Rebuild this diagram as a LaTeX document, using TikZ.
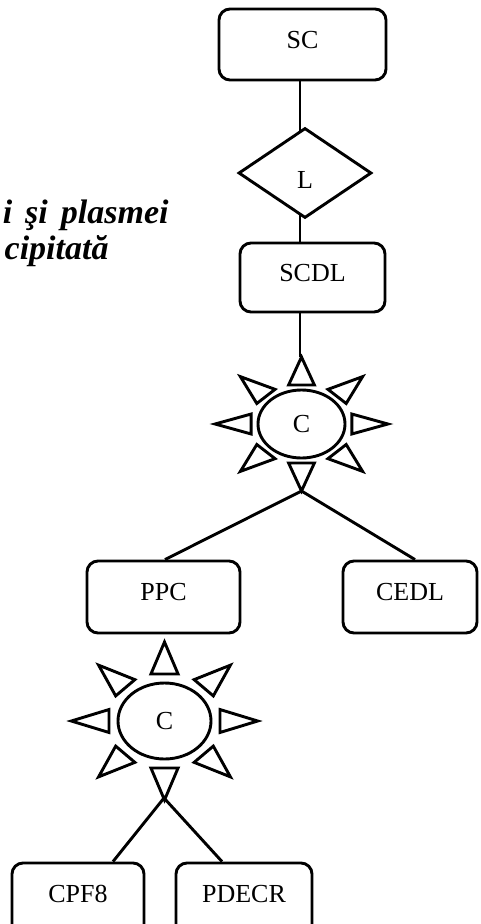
\documentclass[tikz,border=0pt]{standalone}
\usepackage{fontspec}
\setmainfont{Liberation Serif}
\usetikzlibrary{shapes.geometric}

% rays of a "sun" around an ellipse: #1 centre, #2 base radius,
% #3 tip radius, #4 half width of a ray, #5 horizontal stretch
\newcommand{\sunrays}[5]{%
  \begin{scope}[shift={#1}, xscale=#5]
    \foreach \ang in {0,45,...,315}{
      \draw[rotate=\ang, line join=miter] (#2,-#4) -- (#2,#4) -- (#3,0) -- cycle;
    }
  \end{scope}}

\begin{document}
\begin{tikzpicture}[x=1pt, y=-1pt, line width=2.9pt,
  lbl/.style={font=\fontsize{26}{30}\selectfont},
  box/.style={lbl, draw, rounded corners=11pt, minimum width=#1,
    minimum height=72pt, inner sep=0pt, text depth=10pt},
  core/.style={lbl, draw, ellipse, inner sep=0pt},
  caption/.style={font=\fontsize{34}{38}\selectfont\bfseries\itshape,
    inner sep=0pt}]

\useasboundingbox (0,0) rectangle (480,924);

% partial heading on the left
\node[caption, anchor=base east] (head1) at (170,223)
  {i\hspace{13pt}şi\hspace{13pt}plasmei};
\node[caption, anchor=base east] (head2) at (110,259) {cipitată};

\coordinate (spine) at (300,0);

% upper chain
\node[box=167pt, minimum height=71pt] (SC) at (302.5,44.5) {SC};
\node[lbl, draw, diamond, minimum width=133pt, minimum height=90pt,
  inner sep=0pt, text height=31pt] (L) at (305,173) {L};
\node[box=145pt, minimum height=69pt] (SCDL) at (312.5,277.5) {SCDL};

% first centrifugation
\node[core, minimum width=87pt, minimum height=68pt] (C1) at (301.5,424) {C};
\sunrays{(301.5,424)}{39}{67}{10}{1.29}
\coordinate (C1top) at (301.5,357);
\coordinate (C1tip) at (301.5,491);

% middle level
\node[box=153pt] (PPC) at (163.5,597) {PPC};
\node[box=134pt] (CEDL) at (410,597) {CEDL};

% second centrifugation
\node[core, minimum width=93pt, minimum height=76pt] (C2) at (164.5,721) {C};
\sunrays{(164.5,721)}{47}{79}{11.5}{1.18}
\coordinate (C2tip) at (164,798);

% bottom level
\node[box=132pt] (CPF8) at (78,899) {CPF8};
\node[box=136pt] (PDECR) at (244,899) {PDECR};

% connectors
\draw (SC.south -| spine) -- ([yshift=-4pt]spine |- L.north);
\draw ([yshift=4pt]spine |- L.south) -- (SCDL.north -| spine);
\draw (SCDL.south -| spine) -- (spine |- C1top);
\draw (C1tip) -- ([xshift=1.5pt]PPC.north);
\draw (C1tip) -- ([xshift=5pt]CEDL.north);
\draw (C2tip) -- ([xshift=35pt]CPF8.north);
\draw (C2tip) -- ([xshift=-22pt]PDECR.north);
\end{tikzpicture}
\end{document}
